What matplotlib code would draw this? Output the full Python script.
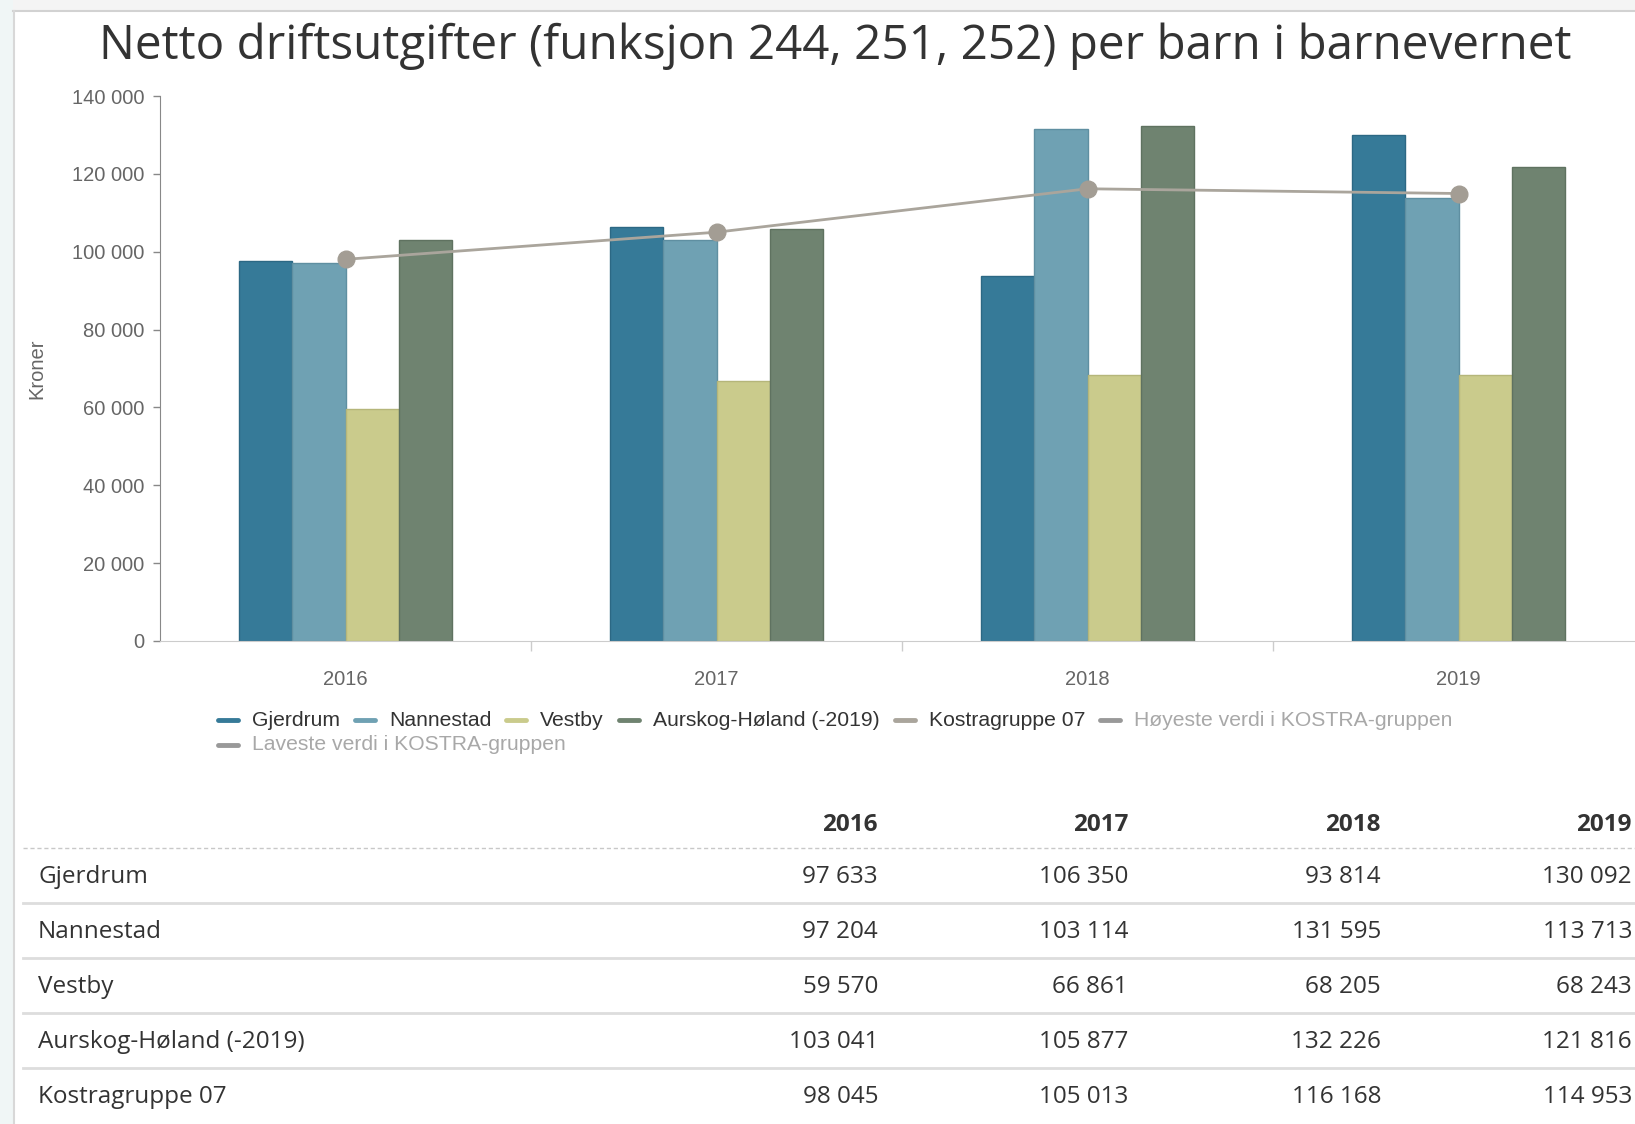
import matplotlib
matplotlib.use("Agg")
import matplotlib.pyplot as plt
from matplotlib.lines import Line2D
from matplotlib.patches import Rectangle
import numpy as np

years = ["2016", "2017", "2018", "2019"]
names = ["Gjerdrum", "Nannestad", "Vestby", "Aurskog-Høland (-2019)"]
gjerdrum = [97633, 106350, 93814, 130092]
nannestad = [97204, 103114, 131595, 113713]
vestby = [59570, 66861, 68205, 68243]
aurskog = [103041, 105877, 132226, 121816]
kostra_name = "Kostragruppe 07"
kostra = [98045, 105013, 116168, 114953]
hidden_names = ["Høyeste verdi i KOSTRA-gruppen", "Laveste verdi i KOSTRA-gruppen"]
yticks = [0, 20000, 40000, 60000, 80000, 100000, 120000, 140000]

colors = ["#367a98", "#6fa1b3", "#cacb8c", "#6f8370"]
edges = ["#2c6884", "#5f8fa1", "#b5b67a", "#5f7260"]
line_color = "#aaa59c"
marker_color = "#a39d94"

W, H = 1635, 1124
fig = plt.figure(figsize=(W / 100, H / 100), dpi=100)
fig.patch.set_facecolor("white")


def fx(x):
    return x / W


def fy(y):
    return 1 - y / H


def fmt(v):
    return "{:,}".format(v).replace(",", " ")


# page background / card border
fig.add_artist(Rectangle((0, fy(11)), 1, 11 / H, transform=fig.transFigure, color="#f4f4f4", lw=0))
fig.add_artist(Rectangle((0, 0), 13 / W, 1, transform=fig.transFigure, color="#f0f6f6", lw=0))
fig.add_artist(Line2D([fx(13), 1], [fy(11), fy(11)], transform=fig.transFigure, color="#d2d2d2", lw=1.5))
fig.add_artist(Line2D([fx(14), fx(14)], [0, fy(11)], transform=fig.transFigure, color="#d8d8d8", lw=1.5))

ax = fig.add_axes([fx(160), fy(641), (1644 - 160) / W, (641 - 96) / H])
x = np.arange(len(years))
width = 0.144
series = [gjerdrum, nannestad, vestby, aurskog]
for i, vals in enumerate(series):
    ax.bar(x + (i - 1.5) * width, vals, width, color=colors[i], edgecolor=edges[i], lw=1, zorder=2)
ax.plot(x, kostra, color=line_color, lw=2, marker="o", ms=12, mfc=marker_color, mec=marker_color, zorder=5, clip_on=False)

ax.set_xlim(-0.5, 3.5)
ax.set_ylim(0, 140000)
ax.set_yticks(yticks)
ax.set_yticklabels([fmt(v) for v in yticks], fontsize=14.5, color="#666666", family="Liberation Sans")
ax.set_xticks(x)
ax.set_xticklabels(years, fontsize=14.5, color="#666666", family="Liberation Sans")
ax.set_xticks([0.5, 1.5, 2.5], minor=True)
ax.tick_params(axis="x", which="major", length=0, pad=21)
ax.tick_params(axis="x", which="minor", length=7, color="#cccccc", width=1)
ax.tick_params(axis="y", length=5, color="#888888", width=1, pad=6)
for s in ["top", "right"]:
    ax.spines[s].set_visible(False)
ax.spines["left"].set_color("#888888")
ax.spines["bottom"].set_color("#cccccc")
ax.set_ylabel("Kroner", fontsize=14.5, color="#666666", family="Liberation Sans")
ax.yaxis.set_label_coords(-(160 - 46) / (1644 - 160), 0.5)

fig.text(fx(835), fy(46), "Netto driftsutgifter (funksjon 244, 251, 252) per barn i barnevernet",
         ha="center", va="center", fontsize=34.3, color="#333333", family="Open Sans")

# legend drawn by hand, highcharts style
renderer = fig.canvas.get_renderer()
items = [(n, colors[i], "#333333") for i, n in enumerate(names)]
items.append((kostra_name, line_color, "#333333"))
items.append((hidden_names[0], "#999999", "#a8a8a8"))
rows = [items, [(hidden_names[1], "#999999", "#a8a8a8")]]
row_y = [720, 745]
for r, row in enumerate(rows):
    cx = 216
    for name, sym, tc in row:
        fig.add_artist(Line2D([fx(cx + 2), fx(cx + 22)], [fy(row_y[r]), fy(row_y[r])], transform=fig.transFigure,
                              color=sym, lw=3.5, solid_capstyle="round"))
        t = fig.text(fx(cx + 36), fy(row_y[r]), name, ha="left", va="center", fontsize=15.2, color=tc,
                     family="Liberation Sans")
        bb = t.get_window_extent(renderer)
        cx = bb.x1 + 13

# table under the chart
col_right = [878, 1128, 1381, 1632]
for j, yr in enumerate(years):
    fig.text(fx(col_right[j]), fy(825), yr, ha="right", va="center", fontsize=17.5, fontweight="bold",
             color="#333333", family="Open Sans")
fig.add_artist(Line2D([fx(23), 1], [fy(848), fy(848)], transform=fig.transFigure, color="#c8c8c8", lw=1,
                      ls=(0, (3, 2))))
table_rows = [(names[0], gjerdrum), (names[1], nannestad), (names[2], vestby), (names[3], aurskog),
              (kostra_name, kostra)]
row_centers = [876, 931, 986, 1041, 1096]
for k, (name, vals) in enumerate(table_rows):
    yc = row_centers[k]
    fig.text(fx(38), fy(yc + 1), name, ha="left", va="center", fontsize=17.5, color="#333333", family="Open Sans")
    for j, v in enumerate(vals):
        fig.text(fx(col_right[j]), fy(yc + 1), fmt(v), ha="right", va="center", fontsize=17.5, color="#333333",
                 family="Open Sans")
    if k < len(table_rows) - 1:
        ys = yc + 27
        fig.add_artist(Line2D([fx(23), 1], [fy(ys), fy(ys)], transform=fig.transFigure, color="#dddddd", lw=2))

plt.savefig("out.png", dpi=100)
